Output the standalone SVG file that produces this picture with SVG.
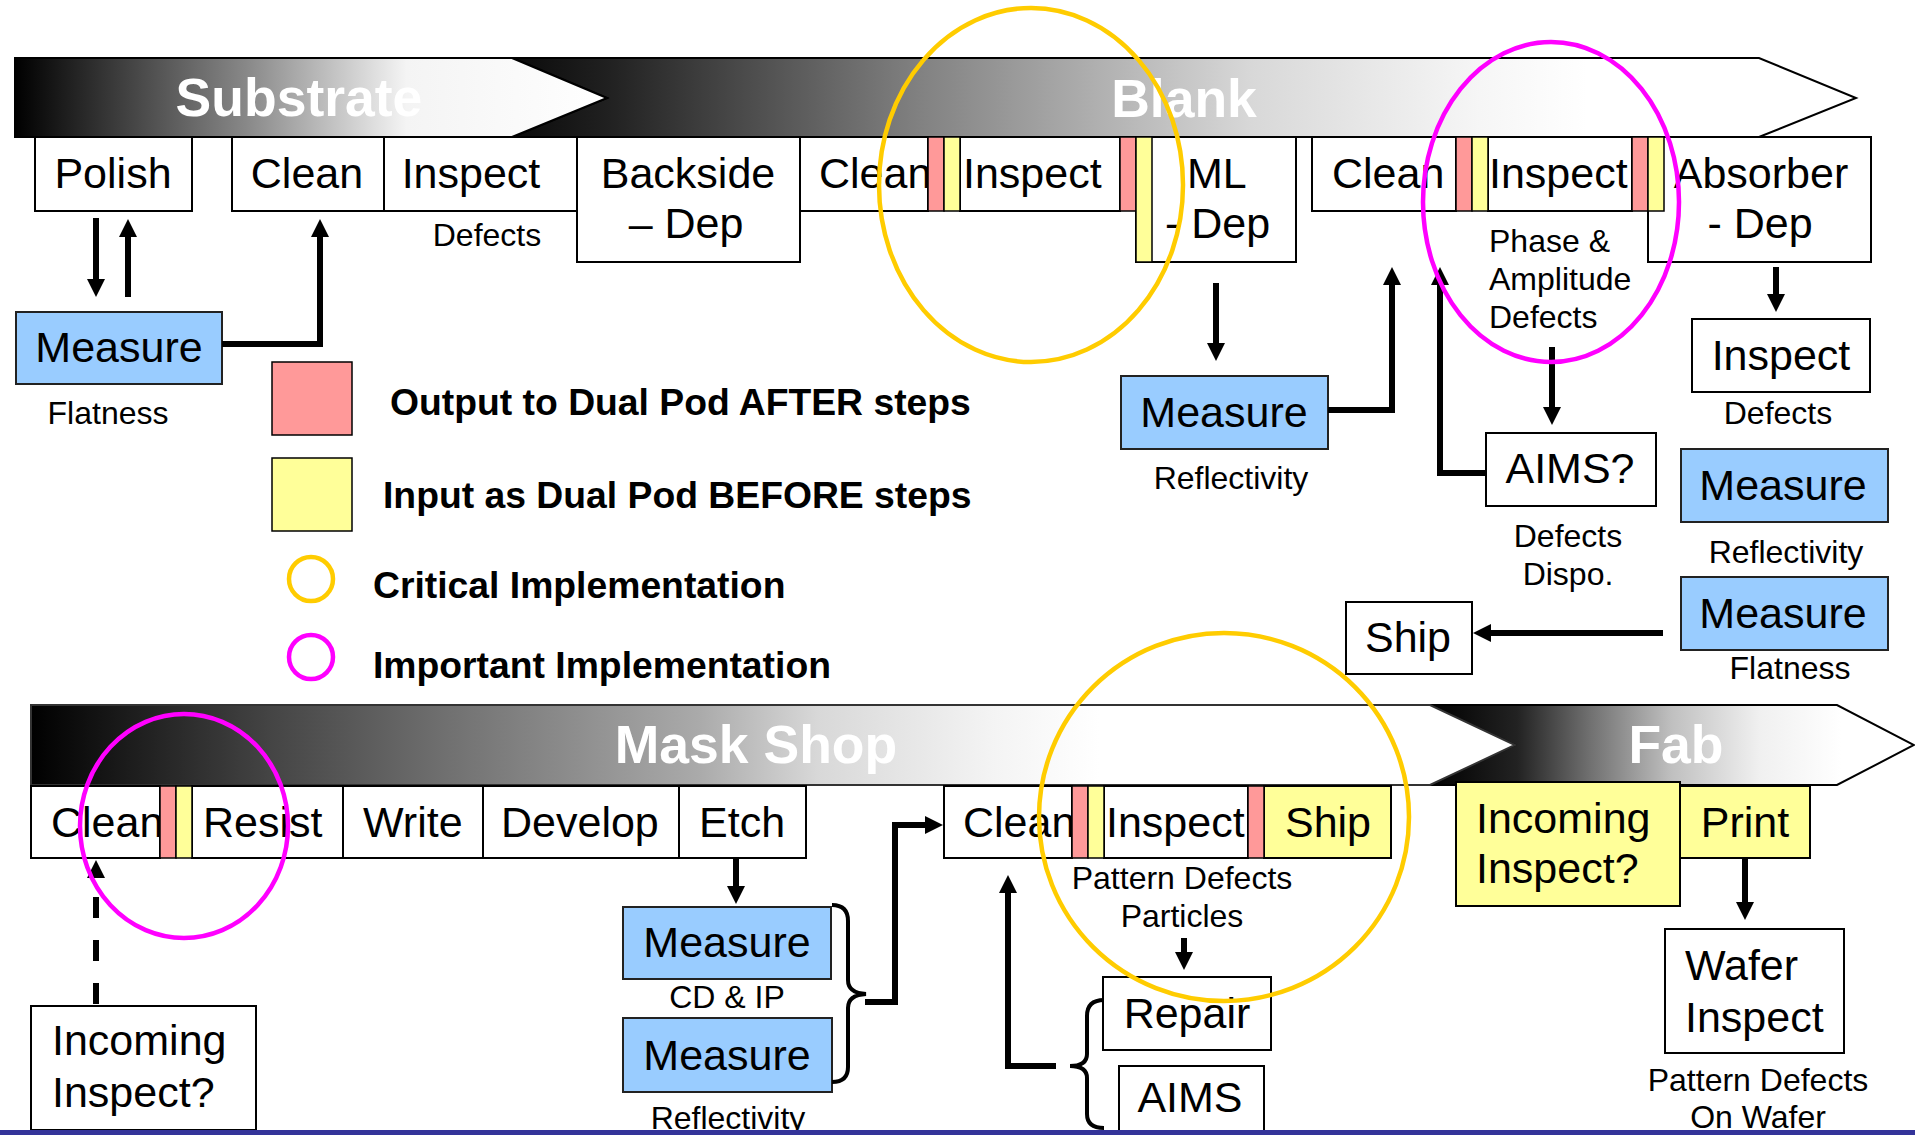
<svg xmlns="http://www.w3.org/2000/svg" width="1915" height="1135" viewBox="0 0 1915 1135">
<style>
text{font-family:"Liberation Sans",Arial,sans-serif;fill:#000}
.t{font-size:43px}
.s{font-size:32px}
.m{text-anchor:middle}
.band{font-size:53.5px;font-weight:bold;fill:#fff;text-anchor:middle}
.lg{font-size:37.3px;font-weight:bold}
.box{fill:#fff;stroke:#000;stroke-width:2}
.blue{fill:#99ccff;stroke:#222;stroke-width:2}
.yel{fill:#ffff99;stroke:#000;stroke-width:2}
.red{fill:#ff9999;stroke:#000;stroke-width:1.5}
.ys{fill:#ffff99;stroke:#000;stroke-width:1.5}
.conn{fill:none;stroke:#000;stroke-width:6}
.brace{fill:none;stroke:#000;stroke-width:4}
.crit{fill:none;stroke:#ffcc00;stroke-width:4.5}
.imp{fill:none;stroke:#ff00ff;stroke-width:4.5}
</style>
<defs>
<marker id="ah" viewBox="0 0 10 10" refX="0" refY="5" markerWidth="3" markerHeight="3" orient="auto" markerUnits="strokeWidth"><path d="M0,0 L10,5 L0,10 z" fill="#000"/></marker>
<linearGradient id="gSub" gradientUnits="userSpaceOnUse" x1="15" y1="0" x2="608" y2="0">
<stop offset="0" stop-color="#000"/><stop offset="0.39" stop-color="#888"/><stop offset="0.66" stop-color="#f4f4f4"/><stop offset="1" stop-color="#fff"/></linearGradient>
<linearGradient id="gBlank" gradientUnits="userSpaceOnUse" x1="512" y1="0" x2="1856" y2="0">
<stop offset="0" stop-color="#0a0a0a"/><stop offset="0.07" stop-color="#202020"/><stop offset="0.30" stop-color="#808080"/><stop offset="0.55" stop-color="#d8d8d8"/><stop offset="0.72" stop-color="#f6f6f6"/><stop offset="0.8" stop-color="#fff"/><stop offset="1" stop-color="#fff"/></linearGradient>
<linearGradient id="gMask" gradientUnits="userSpaceOnUse" x1="31" y1="0" x2="1515" y2="0">
<stop offset="0" stop-color="#000"/><stop offset="0.16" stop-color="#444"/><stop offset="0.28" stop-color="#707070"/><stop offset="0.45" stop-color="#aaa"/><stop offset="0.53" stop-color="#d8d8d8"/><stop offset="0.65" stop-color="#f4f4f4"/><stop offset="0.72" stop-color="#fff"/><stop offset="1" stop-color="#fff"/></linearGradient>
<linearGradient id="gFab" gradientUnits="userSpaceOnUse" x1="1430" y1="0" x2="1914" y2="0">
<stop offset="0" stop-color="#000"/><stop offset="0.18" stop-color="#222"/><stop offset="0.33" stop-color="#707070"/><stop offset="0.5" stop-color="#c0c0c0"/><stop offset="0.68" stop-color="#f0f0f0"/><stop offset="0.85" stop-color="#fff"/><stop offset="1" stop-color="#fff"/></linearGradient>
</defs>
<rect width="1915" height="1135" fill="#fff"/>

<g id="band-blank">
<polygon points="512,58 1759,58 1856,98 1759,137 512,137 607,98" fill="url(#gBlank)" stroke="#000" stroke-width="2"/>
<text class="band" x="1184" y="117">Blank</text>
</g>
<g id="band-substrate">
<polygon points="15,58 512,58 607,98 512,137 15,137" fill="url(#gSub)" stroke="#000" stroke-width="2"/>
<text class="band" x="299" y="116">Substrate</text>
</g>
<g id="band-fab">
<polygon points="1430,705 1837,705 1914,745 1837,785 1430,785 1515,745" fill="url(#gFab)" stroke="#000" stroke-width="2"/>
<text class="band" x="1676" y="763">Fab</text>
</g>
<g id="band-maskshop">
<polygon points="31,705 1430,705 1515,745 1430,785 31,785" fill="url(#gMask)" stroke="#333" stroke-width="2"/>
<text class="band" x="756" y="763">Mask Shop</text>
</g>

<g id="polish"><rect class="box" x="35" y="137" width="157" height="74"/><text class="t m" x="113" y="188">Polish</text></g>
<g id="sub-clean"><rect class="box" x="232" y="137" width="152" height="74"/><text class="t m" x="307" y="188">Clean</text></g>
<g id="sub-inspect"><rect class="box" x="384" y="137" width="194" height="74"/><text class="t m" x="471" y="188">Inspect</text><text class="s m" x="487" y="246">Defects</text></g>
<g id="backside-dep"><rect class="box" x="577" y="137" width="223" height="125"/><text class="t m" x="688" y="188">Backside</text><text class="t m" x="686" y="238">– Dep</text></g>
<g id="blank-clean"><rect class="box" x="800" y="137" width="128" height="74"/><text class="t" x="819" y="188">Clean</text></g>
<g id="blank-inspect"><rect class="box" x="960" y="137" width="160" height="74"/><text class="t" x="963" y="188">Inspect</text></g>
<g id="ml-dep"><rect class="box" x="1136" y="137" width="160" height="125"/><text class="t" x="1187" y="188">ML</text><text class="t" x="1165" y="238">- Dep</text></g>
<g id="ml-clean"><rect class="box" x="1312" y="137" width="144" height="74"/><text class="t" x="1332" y="188">Clean</text></g>
<g id="ml-inspect"><rect class="box" x="1488" y="137" width="144" height="74"/><text class="t" x="1489" y="188">Inspect</text>
<text class="s" x="1489" y="252">Phase &amp;</text><text class="s" x="1489" y="290">Amplitude</text><text class="s" x="1489" y="328">Defects</text></g>
<g id="absorber-dep"><rect class="box" x="1648" y="137" width="223" height="125"/><text class="t m" x="1761" y="188">Absorber</text><text class="t m" x="1760" y="238">- Dep</text></g>

<g id="pods-top">
<rect class="red" x="928" y="137" width="16" height="74"/><rect class="ys" x="944" y="137" width="16" height="74"/>
<rect class="red" x="1120" y="137" width="16" height="74"/><rect class="ys" x="1136" y="137" width="16" height="125"/>
<rect class="red" x="1456" y="137" width="16" height="74"/><rect class="ys" x="1472" y="137" width="16" height="74"/>
<rect class="red" x="1632" y="137" width="16" height="74"/><rect class="ys" x="1648" y="137" width="16" height="74"/>
</g>

<g id="measure-flatness-1"><rect class="blue" x="16" y="312" width="206" height="72"/><text class="t m" x="119" y="362">Measure</text><text class="s m" x="108" y="424">Flatness</text></g>
<g id="measure-reflectivity-1"><rect class="blue" x="1121" y="376" width="207" height="73"/><text class="t m" x="1224" y="427">Measure</text><text class="s m" x="1231" y="489">Reflectivity</text></g>
<g id="aims-q"><rect class="box" x="1486" y="433" width="170" height="73"/><text class="t m" x="1570" y="483">AIMS?</text><text class="s m" x="1568" y="547">Defects</text><text class="s m" x="1568" y="585">Dispo.</text></g>
<g id="inspect-defects"><rect class="box" x="1692" y="319" width="178" height="73"/><text class="t m" x="1781" y="370">Inspect</text><text class="s m" x="1778" y="424">Defects</text></g>
<g id="measure-reflectivity-2"><rect class="blue" x="1681" y="449" width="207" height="73"/><text class="t m" x="1783" y="500">Measure</text><text class="s m" x="1786" y="563">Reflectivity</text></g>
<g id="measure-flatness-2"><rect class="blue" x="1681" y="577" width="207" height="73"/><text class="t m" x="1783" y="628">Measure</text><text class="s m" x="1790" y="679">Flatness</text></g>
<g id="ship-blank"><rect class="box" x="1346" y="602" width="126" height="72"/><text class="t m" x="1408" y="652">Ship</text></g>

<g id="legend">
<rect class="red" x="272" y="362" width="80" height="73" stroke-width="2"/>
<text class="lg" x="390" y="415">Output to Dual Pod AFTER steps</text>
<rect class="ys" x="272" y="458" width="80" height="73" stroke-width="2"/>
<text class="lg" x="383" y="508">Input as Dual Pod BEFORE steps</text>
<circle class="crit" cx="311" cy="579" r="22" stroke-width="4"/>
<text class="lg" x="373" y="598">Critical Implementation</text>
<circle class="imp" cx="311" cy="657" r="22" stroke-width="4"/>
<text class="lg" x="373" y="678">Important Implementation</text>
</g>

<g id="ms-clean"><rect class="box" x="31" y="786" width="129" height="72"/><text class="t" x="51" y="837">Clean</text></g>
<g id="resist"><rect class="box" x="192" y="786" width="151" height="72"/><text class="t" x="203" y="837">Resist</text></g>
<g id="write"><rect class="box" x="343" y="786" width="140" height="72"/><text class="t" x="363" y="837">Write</text></g>
<g id="develop"><rect class="box" x="483" y="786" width="196" height="72"/><text class="t" x="501" y="837">Develop</text></g>
<g id="etch"><rect class="box" x="679" y="786" width="127" height="72"/><text class="t" x="699" y="837">Etch</text></g>
<g id="ms-clean-2"><rect class="box" x="944" y="786" width="128" height="72"/><text class="t" x="963" y="837">Clean</text></g>
<g id="ms-inspect"><rect class="box" x="1104" y="786" width="144" height="72"/><text class="t" x="1106" y="837">Inspect</text>
<text class="s m" x="1182" y="889">Pattern Defects</text><text class="s m" x="1182" y="927">Particles</text></g>
<g id="ms-ship"><rect class="yel" x="1264" y="786" width="127" height="72"/><text class="t m" x="1328" y="837">Ship</text></g>
<g id="pods-bottom">
<rect class="red" x="160" y="786" width="16" height="72"/><rect class="ys" x="176" y="786" width="16" height="72"/>
<rect class="red" x="1072" y="786" width="16" height="72"/><rect class="ys" x="1088" y="786" width="16" height="72"/>
<rect class="red" x="1248" y="786" width="16" height="72"/>
</g>
<g id="fab-incoming"><rect class="yel" x="1456" y="782" width="224" height="124"/><text class="t" x="1476" y="833">Incoming</text><text class="t" x="1476" y="883">Inspect?</text></g>
<g id="print"><rect class="yel" x="1680" y="786" width="130" height="72"/><text class="t m" x="1745" y="837">Print</text></g>
<g id="wafer-inspect"><rect class="box" x="1665" y="929" width="179" height="124"/><text class="t" x="1685" y="980">Wafer</text><text class="t" x="1685" y="1032">Inspect</text>
<text class="s m" x="1758" y="1091">Pattern Defects</text><text class="s m" x="1758" y="1128">On Wafer</text></g>
<g id="measure-cd"><rect class="blue" x="623" y="907" width="208" height="72"/><text class="t m" x="727" y="957">Measure</text><text class="s m" x="727" y="1008">CD &amp; IP</text></g>
<g id="measure-reflectivity-3"><rect class="blue" x="623" y="1018" width="209" height="74"/><text class="t m" x="727" y="1070">Measure</text><text class="s m" x="728" y="1129">Reflectivity</text></g>
<g id="repair"><rect class="box" x="1103" y="977" width="168" height="73"/><text class="t m" x="1187" y="1028">Repair</text></g>
<g id="aims"><rect class="box" x="1119" y="1066" width="145" height="80"/><text class="t m" x="1190" y="1112">AIMS</text></g>
<g id="incoming-inspect"><rect class="box" x="31" y="1006" width="225" height="124"/><text class="t" x="52" y="1055">Incoming</text><text class="t" x="52" y="1107">Inspect?</text></g>

<g id="connectors">
<path class="conn" d="M96,218 V279" marker-end="url(#ah)"/>
<path class="conn" d="M128,297 V237" marker-end="url(#ah)"/>
<path class="conn" d="M222,344 H320 V237" marker-end="url(#ah)"/>
<path class="conn" d="M1216,283 V343" marker-end="url(#ah)"/>
<path class="conn" d="M1328,410 H1392 V285" marker-end="url(#ah)"/>
<path class="conn" d="M1486,473 H1440 V285" marker-end="url(#ah)"/>
<path class="conn" d="M1552,347 V407" marker-end="url(#ah)"/>
<path class="conn" d="M1776,267 V294" marker-end="url(#ah)"/>
<path class="conn" d="M1663,633 H1491" marker-end="url(#ah)"/>
<path class="conn" d="M96,1004 V878" stroke-dasharray="21 22" marker-end="url(#ah)"/>
<path class="conn" d="M736,858 V886" marker-end="url(#ah)"/>
<path class="brace" d="M832,905 Q848,905 848,921 V980 Q848,993 866,994 Q848,995 848,1008 V1067 Q848,1082 832,1082"/>
<path class="conn" d="M865,1002 H895 V825 H925" marker-end="url(#ah)"/>
<path class="conn" d="M1184,938 V952" marker-end="url(#ah)"/>
<path class="brace" d="M1104,1000 Q1087,1000 1087,1016 V1054 Q1087,1066 1070,1066 Q1087,1066 1087,1078 V1114 Q1087,1128 1104,1128"/>
<path class="conn" d="M1056,1066 H1008 V893" marker-end="url(#ah)"/>
<path class="conn" d="M1745,858 V902" marker-end="url(#ah)"/>
</g>

<g id="highlights">
<ellipse class="crit" cx="1031" cy="185" rx="152" ry="177"/>
<ellipse class="imp" cx="1551" cy="202" rx="128" ry="160"/>
<ellipse class="imp" cx="184" cy="826" rx="104" ry="112"/>
<ellipse class="crit" cx="1224" cy="817" rx="185" ry="184"/>
</g>
<rect id="bottom-bar" x="0" y="1130" width="1915" height="5" fill="#333399"/>
</svg>
